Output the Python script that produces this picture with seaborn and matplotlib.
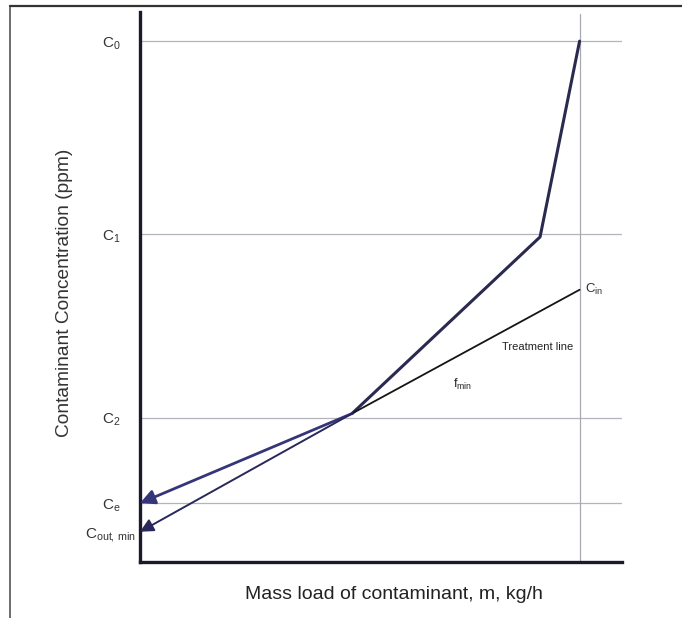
import matplotlib
matplotlib.use('Agg')
import matplotlib.pyplot as plt
import seaborn as sns
import pandas as pd
from matplotlib.lines import Line2D

# data (arbitrary units)
conc_names = ['C0', 'C1', 'C2', 'Ce', 'Cout,min']
conc_labels = [r'C$_\mathregular{0}$', r'C$_\mathregular{1}$', r'C$_\mathregular{2}$',
               r'C$_\mathregular{e}$', r'C$_\mathregular{out,\,min}$']
conc_values = [94.7, 59.6, 26.2, 10.7, 5.5]
grid_values = [94.7, 59.6, 26.2, 10.7]

# composite curve (upper line) and treatment line
comp_x = [9.12, 8.3, 4.4]
comp_y = [94.7, 59.1, 27.0]
treat_x = [9.12, 4.4]
treat_y = [49.5, 27.0]
pinch = (4.4, 27.0)
comp_end = (0.0, 10.7)
treat_end = (0.0, 5.5)
m_max = 9.12

sns.set_style('white')
plt.rcParams['font.family'] = ['Liberation Sans', 'DejaVu Sans']
plt.rcParams['mathtext.fontset'] = 'custom'
plt.rcParams['mathtext.rm'] = 'Liberation Sans'
plt.rcParams['mathtext.it'] = 'Liberation Sans:italic'

fig = plt.figure(figsize=(6.82, 6.18), dpi=100)
ax = fig.add_axes([140 / 682, 1 - 562 / 618, 482 / 682, 550 / 618])

# grid lines
for v in grid_values:
    ax.axhline(v, color='#b4b4bc', lw=0.9, zorder=1)
ax.axvline(m_max, ymax=0.996, color='#a8a8b0', lw=0.9, zorder=1)

df_comp = pd.DataFrame({'m': comp_x, 'c': comp_y})
df_treat = pd.DataFrame({'m': treat_x, 'c': treat_y})
sns.lineplot(data=df_comp, x='m', y='c', sort=False, color='#2a2a50', lw=2.2, ax=ax, zorder=3)
sns.lineplot(data=df_treat, x='m', y='c', sort=False, color='#151515', lw=1.3, ax=ax, zorder=3)

# arrows to the y axis
ax.annotate('', xy=comp_end, xytext=pinch,
            arrowprops=dict(arrowstyle='-|>', mutation_scale=22, lw=2.0,
                            color='#35357a', shrinkA=0, shrinkB=0), zorder=4)
ax.annotate('', xy=treat_end, xytext=pinch,
            arrowprops=dict(arrowstyle='-|>', mutation_scale=20, lw=1.4,
                            color='#28285a', shrinkA=0, shrinkB=0), zorder=4)

# annotations
ax.text(9.23, 49.5, r'C$_\mathregular{in}$', fontsize=9.5, ha='left', va='center', color='#333333')
ax.text(8.24, 39.1, 'Treatment line', fontsize=8, ha='center', va='center', color='#222222')
ax.text(6.5, 32.3, r'f$_\mathregular{min}$', fontsize=9, ha='left', va='center', color='#222222')

ax.set_xlim(0, 10)
ax.set_ylim(0, 100)
ax.set_xticks([])
ax.set_yticks(conc_values)
ax.set_yticklabels(conc_labels, fontsize=11, color='#333333')
for t in ax.get_yticklabels():
    t.set_ha('center')
ax.tick_params(axis='y', length=0, pad=21)

ax.set_xlabel('Mass load of contaminant, m, kg/h', fontsize=14, color='#222222')
ax.xaxis.set_label_coords(0.527, -0.043)
ax.set_ylabel('Contaminant Concentration (ppm)', fontsize=13.8, color='#333333')
ax.yaxis.set_label_coords(-0.138, 0.49)

sns.despine(ax=ax, top=True, right=True)
for s in ['left', 'bottom']:
    ax.spines[s].set_color('#1a1a2a')
    ax.spines[s].set_linewidth(2.4)

# outer frame of the scanned figure
fig.add_artist(Line2D([10 / 682, 10 / 682], [0, 1 - 6 / 618], color='#555555', lw=1.2))
fig.add_artist(Line2D([10 / 682, 1], [1 - 6 / 618, 1 - 6 / 618], color='#333333', lw=1.6))

fig.savefig('out.png', dpi=100)
